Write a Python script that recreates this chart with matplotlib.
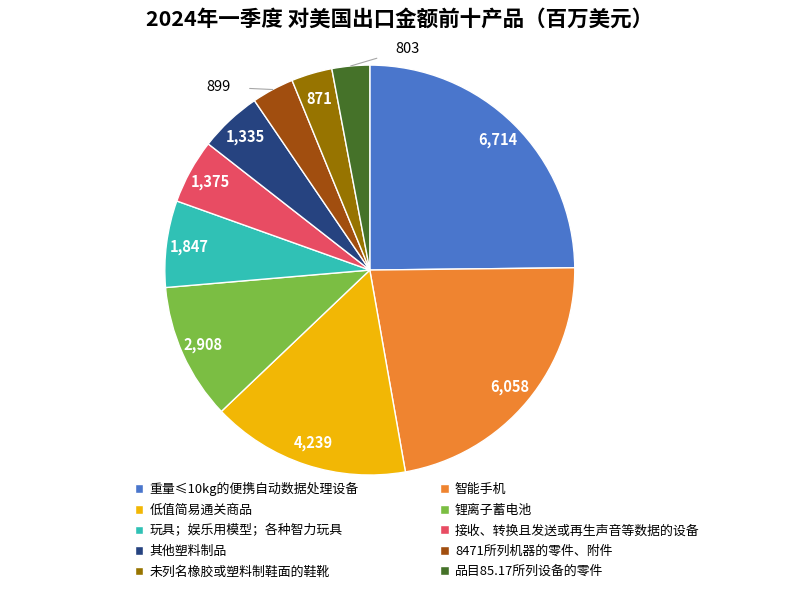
import matplotlib.pyplot as plt
import numpy as np

plt.rcParams['font.family'] = ['Noto Sans CJK SC', 'DejaVu Sans']

#chart data
products = ["重量≤10kg的便携自动数据处理设备", "智能手机", "低值简易通关商品", "锂离子蓄电池",
            "玩具；娱乐用模型；各种智力玩具", "接收、转换且发送或再生声音等数据的设备",
            "其他塑料制品", "8471所列机器的零件、附件", "未列名橡胶或塑料制鞋面的鞋靴",
            "品目85.17所列设备的零件"]
values = [6714, 6058, 4239, 2908, 1847, 1375, 1335, 899, 871, 803]
colors = ["#4a76cc", "#ef8430", "#f2b705", "#7bbe43", "#30c1b5",
          "#e84c63", "#264380", "#a14e0f", "#977400", "#457229"]
outside = {7: (-0.74, 0.893), 9: (0.185, 1.078)}

fig = plt.figure(figsize=(8, 5.89), dpi=100)
ax = fig.add_axes([0.206, 0.1935, 0.5125, 0.696])

wedges, _ = ax.pie(values, colors=colors, startangle=90, counterclock=False,
                   wedgeprops={'edgecolor': 'white', 'linewidth': 1})
ax.set_xlim(-1, 1)
ax.set_ylim(-1, 1)
ax.set_aspect('equal')

for i, w in enumerate(wedges):
    ang = np.deg2rad((w.theta1 + w.theta2) / 2)
    txt = f"{values[i]:,}"
    if i in outside:
        ax.annotate(txt, xy=(np.cos(ang), np.sin(ang)), xytext=outside[i],
                    ha='center', va='center', fontsize=10.5, color='black',
                    annotation_clip=False,
                    arrowprops=dict(arrowstyle='-', color='#a6a6a6', lw=0.8,
                                    shrinkA=12, shrinkB=0))
    else:
        r = 0.89 if values[i] > 1000 else 0.87
        ax.text(r * np.cos(ang), r * np.sin(ang), txt, ha='center', va='center',
                fontsize=10.5, color='white', fontweight='bold')

order = [0, 2, 4, 6, 8, 1, 3, 5, 7, 9]
fig.legend([wedges[i] for i in order], [products[i] for i in order], ncols=2,
           loc='upper left', bbox_to_anchor=(0.162, 0.19), frameon=False,
           fontsize=9.3, handlelength=0.65, handleheight=0.65, handletextpad=0.5,
           columnspacing=6.3, labelspacing=0.58, borderaxespad=0)

fig.text(0.5, 0.968, "2024年一季度 对美国出口金额前十产品（百万美元）", ha='center', va='center',
         fontsize=15.5, fontweight='bold')

fig.savefig("out.png")
